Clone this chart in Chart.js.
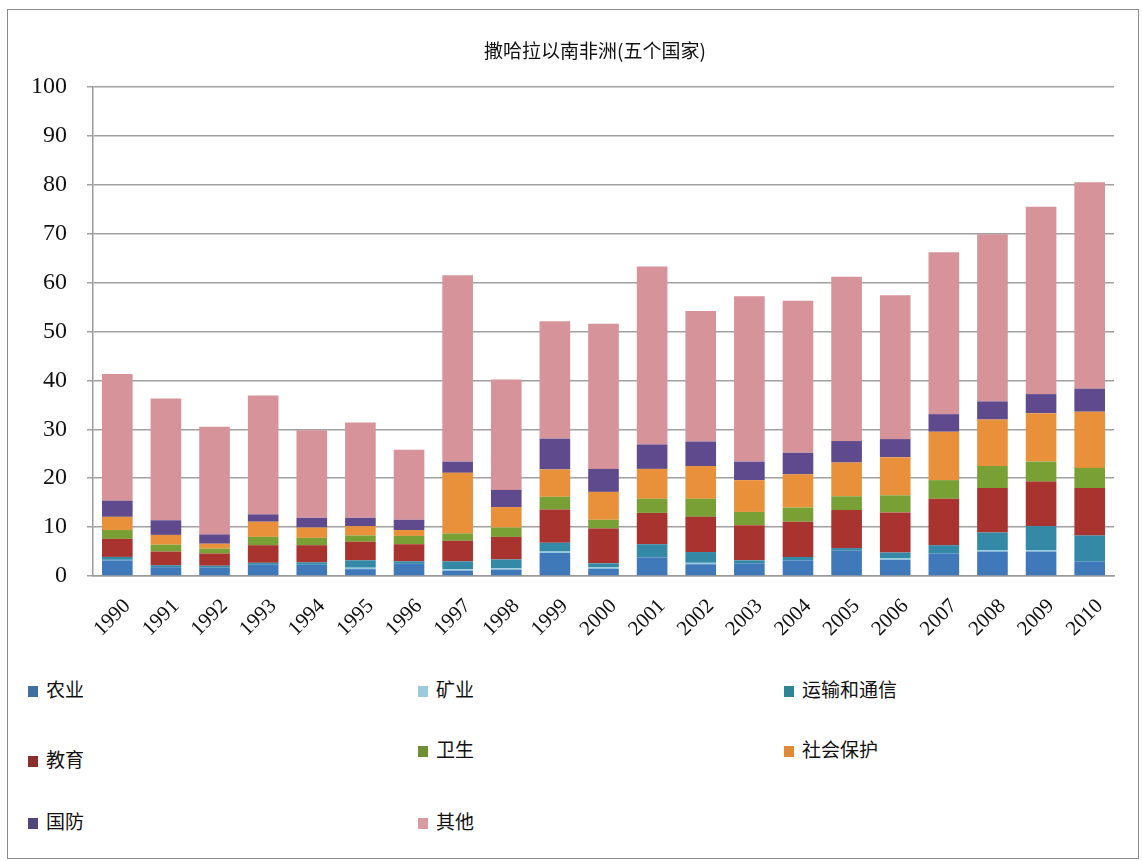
<!DOCTYPE html>
<html>
<head>
<meta charset="utf-8">
<script src="https://cdn.jsdelivr.net/npm/chart.js@4/dist/chart.umd.min.js"></script>
<style>
  body { margin: 0; background: #fff; }
  #frame { position: absolute; left: 7px; top: 9px; width: 1132px; height: 850px; border: 1px solid #8a8a8a; box-sizing: border-box; background: #fff; }
  #wrap { position: absolute; left: 2px; top: 0; width: 1128px; height: 660px; }
  #legend { position: absolute; left: 0; top: 0; width: 1130px; }
  .item { position: absolute; font-family: "Noto Sans CJK SC", sans-serif; font-size: 19px; color: #111; line-height: 22px; white-space: nowrap; }
  .box { display: inline-block; width: 10px; height: 11px; margin-right: 8px; vertical-align: 0px; }
</style>
</head>
<body>
<div id="frame">
  <div id="wrap"><canvas id="myChart"></canvas></div>
  <div id="legend"></div>
</div>
<script>
// Years on the x-axis
const years = ['1990', '1991', '1992', '1993', '1994', '1995', '1996', '1997', '1998', '1999', '2000',
    '2001', '2002', '2003', '2004', '2005', '2006', '2007', '2008', '2009', '2010'];
// Series values, bottom to top
const agriculture = [3.2, 1.8, 1.7, 2.3, 2.3, 1.4, 2.5, 1.1, 1.3, 4.7, 1.5, 3.8, 2.4, 2.6, 3.2, 5.2, 3.3, 4.6, 5.0, 5.0, 3.0];
const mining = [0.1, 0, 0, 0, 0, 0.3, 0, 0.3, 0.3, 0.3, 0.3, 0, 0.3, 0, 0, 0, 0.3, 0, 0.3, 0.3, 0];
const transport = [0.6, 0.4, 0.4, 0.4, 0.5, 1.5, 0.5, 1.6, 1.8, 1.8, 0.8, 2.7, 2.2, 0.6, 0.7, 0.5, 1.2, 1.7, 3.6, 4.9, 5.3];
const education = [3.7, 2.8, 2.5, 3.6, 3.5, 3.8, 3.5, 4.2, 4.6, 6.8, 7.1, 6.4, 7.2, 7.2, 7.2, 7.8, 8.2, 9.5, 9.1, 9.1, 9.7];
const health = [1.8, 1.4, 1.0, 1.7, 1.5, 1.3, 1.7, 1.5, 1.9, 2.6, 1.8, 2.9, 3.7, 2.7, 2.9, 2.8, 3.5, 3.8, 4.5, 4.1, 4.1];
const socialProtection = [2.7, 2.0, 1.0, 3.1, 2.1, 1.9, 1.2, 12.4, 4.2, 5.6, 5.7, 6.1, 6.7, 6.5, 6.8, 6.9, 7.8, 9.9, 9.5, 9.9, 11.5];
const defense = [3.3, 3.0, 1.9, 1.5, 2.0, 1.7, 2.1, 2.3, 3.5, 6.3, 4.7, 5.0, 5.0, 3.8, 4.4, 4.4, 3.7, 3.6, 3.7, 3.9, 4.7];
const other = [25.9, 24.9, 22.0, 24.3, 17.9, 19.5, 14.3, 38.1, 22.6, 24.0, 29.7, 36.4, 26.7, 33.8, 31.1, 33.6, 29.4, 33.1, 34.2, 38.3, 42.2];
// Y-axis ticks
const yTicks = [0, 10, 20, 30, 40, 50, 60, 70, 80, 90, 100];

const chartTitle = '撒哈拉以南非洲(五个国家)';
const seriesNames = ['农业', '矿业', '运输和通信', '教育', '卫生', '社会保护', '国防', '其他'];
const seriesData = [agriculture, mining, transport, education, health, socialProtection, defense, other];
const seriesColors = ['#4079b9', '#93cade', '#3389a6', '#a8332f', '#78a034', '#e8913a', '#604a8e', '#d6939a'];
const legendColors = ['#3f6fa3', '#9ccbdc', '#2f8497', '#8c2f2c', '#6f8f35', '#e08a38', '#51457a', '#d99aa0'];

const datasets = seriesNames.map((name, i) => ({
    label: name,
    data: seriesData[i],
    backgroundColor: seriesColors[i],
    borderWidth: 0,
    categoryPercentage: 1,
    barPercentage: 0.63
}));

// Draw the title a little right of centre, as in the original
const titlePlugin = {
    id: 'titleText',
    afterDraw(chart) {
        const c = chart.ctx;
        c.save();
        c.fillStyle = '#111';
        c.font = '19px "Noto Sans CJK SC", sans-serif';
        c.textAlign = 'center';
        c.textBaseline = 'middle';
        c.fillText(chartTitle, 585, 41);
        c.restore();
    }
};

const ctx = document.getElementById('myChart').getContext('2d');
new Chart(ctx, {
    type: 'bar',
    data: { labels: years, datasets: datasets },
    plugins: [titlePlugin],
    options: {
        responsive: true,
        maintainAspectRatio: false,
        animation: false,
        layout: { padding: { left: 0, right: 24, top: 77, bottom: 0 } },
        plugins: {
            legend: { display: false },
            tooltip: { enabled: false },
            title: { display: false }
        },
        scales: {
            x: {
                stacked: true,
                grid: { display: false },
                border: { color: '#9a9a9a', width: 1.5 },
                ticks: {
                    color: '#111',
                    minRotation: 45,
                    maxRotation: 45,
                    padding: 10,
                    labelOffset: 10,
                    font: { family: '"Liberation Serif", serif', size: 21 }
                },
                afterFit: (scale) => { scale.height = 94; }
            },
            y: {
                stacked: true,
                min: 0,
                max: 100,
                afterBuildTicks: (scale) => { scale.ticks = yTicks.map(v => ({ value: v })); },
                grid: { color: '#a0a0a0', lineWidth: 1.5, tickLength: 6 },
                border: { color: '#9a9a9a', width: 1.5 },
                ticks: {
                    color: '#111',
                    padding: 20,
                    font: { family: '"Liberation Serif", serif', size: 24 }
                },
                afterFit: (scale) => { scale.width = 83; }
            }
        }
    }
});

// Legend as a 3-column grid like the original
const legendPos = [[20, 668], [410, 668], [776, 668], [20, 738], [410, 728], [776, 728], [20, 800], [410, 800]];
const legendEl = document.getElementById('legend');
seriesNames.forEach((name, i) => {
    const item = document.createElement('div');
    item.className = 'item';
    item.style.left = legendPos[i][0] + 'px';
    item.style.top = legendPos[i][1] + 'px';
    item.innerHTML = '<span class="box" style="background:' + legendColors[i] + '"></span>' + name;
    legendEl.appendChild(item);
});
</script>
</body>
</html>
